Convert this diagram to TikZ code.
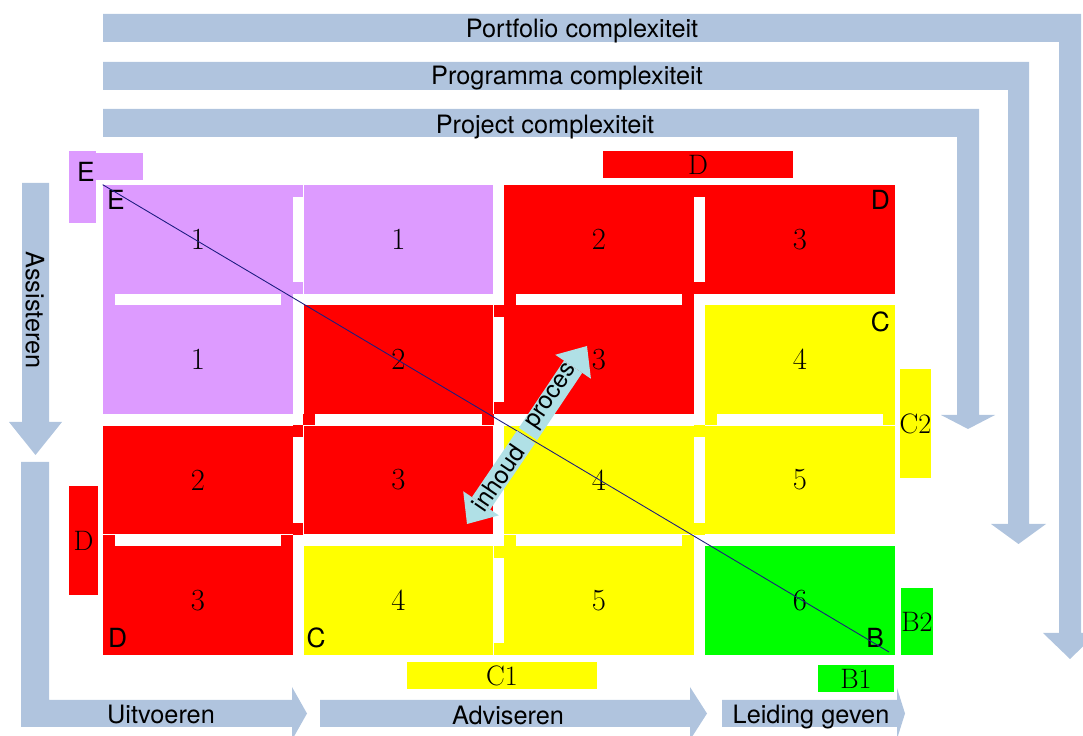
\documentclass[tikz,border=0pt]{standalone}
\usepackage{fontspec}
\newfontfamily\helv{TeX Gyre Heros}
\usetikzlibrary{arrows.meta}

\definecolor{lila}{HTML}{DD9BFF}
\definecolor{rood}{HTML}{FF0000}
\definecolor{geel}{HTML}{FFFF00}
\definecolor{groen}{HTML}{00FF00}
\definecolor{bandblauw}{HTML}{B0C4DE}
\definecolor{pijlblauw}{HTML}{B0E0E6}
\definecolor{lijn}{HTML}{1C1C80}

% gap between two cells of the same colour: only the ends are filled
\newcommand\hjoin[3]{%
  \fill[#3] (#1.north east) rectangle ([yshift=-.24cm]#2.north west);
  \fill[#3] ([yshift=.24cm]#1.south east) rectangle (#2.south west);}
\newcommand\vjoin[3]{%
  \fill[#3] (#1.south west) rectangle ([xshift=.24cm]#2.north west);
  \fill[#3] ([xshift=-.24cm]#1.south east) rectangle (#2.north east);}

\begin{document}
\begin{tikzpicture}[
    x=0.02cm, y=-0.02cm,
    cell/.style = {minimum width=3.8cm, minimum height=2.18cm, inner sep=0pt,
                   font=\fontsize{17.5}{20}\selectfont},
    corner/.style = {inner sep=0pt, font=\helv\fontsize{15}{17}\selectfont},
    tag/.style = {inner sep=0pt, font=\fontsize{16}{18}\selectfont},
    band/.style = {fill=bandblauw},
    bandlabel/.style = {inner sep=0pt, font=\helv\fontsize{14.4}{16}\selectfont},
    duo/.style = {draw=pijlblauw, line width=0.44cm,
                  -{Triangle[width=0.86cm,length=0.5cm,line width=0pt]}},
    duolabel/.style = {sloped, inner sep=0pt, font=\helv\fontsize{14}{16}\selectfont},
    diag/.style = {draw=lijn, line width=0.5pt}
    ]
    \useasboundingbox (0,0) rectangle (1083,736);
    \clip (0,0) rectangle (1083,736);

    % complexity bands
    \fill[band] (103,14) -- (1081,14) -- (1081,633) -- (1097,633) -- (1070,659)
      -- (1043,633) -- (1059,633) -- (1059,42) -- (103,42) -- cycle;
    \node[bandlabel] (portfolio) at (582,31) {Portfolio complexiteit};
    \fill[band] (103,62) -- (1029,62) -- (1029,524) -- (1046,524) -- (1018.5,544)
      -- (991,524) -- (1008,524) -- (1008,90) -- (103,90) -- cycle;
    \node[bandlabel] (programma) at (567,78) {Programma complexiteit};
    \fill[band] (103,109) -- (979,109) -- (979,415) -- (995,415) -- (968,429)
      -- (941,415) -- (957,415) -- (957,137) -- (103,137) -- cycle;
    \node[bandlabel] (project) at (545,127) {Project complexiteit};

    % roles
    \fill[band] (22,183) -- (49,183) -- (49,422) -- (62,422) -- (35.5,455)
      -- (9,422) -- (22,422) -- cycle;
    \node[bandlabel, rotate=-90] (assist) at (35,310) {Assisteren};
    \fill[band] (21,462) -- (49,462) -- (49,700) -- (292,700) -- (292,687)
      -- (307,713.5) -- (292,740) -- (292,727) -- (21,727) -- cycle;
    \node[bandlabel] (uitvoer) at (161,715) {Uitvoeren};
    \fill[band] (320,700) -- (690,700) -- (690,687) -- (707,713.5) -- (690,740)
      -- (690,727) -- (320,727) -- cycle;
    \node[bandlabel] (advies) at (508,715) {Adviseren};
    \fill[band] (722,700) -- (897,700) -- (897,688) -- (905,713.5) -- (897,739)
      -- (897,727) -- (722,727) -- cycle;
    \node[bandlabel] (leiding) at (811,717) {Leiding geven};

    % matrix
    \node[cell, fill=lila]  (c11) at (198,239.5) {1};
    \node[cell, fill=lila]  (c12) at (398.5,239.5) {1};
    \node[cell, fill=rood]  (c13) at (599,239.5) {2};
    \node[cell, fill=rood]  (c14) at (800,239.5) {3};
    \node[cell, fill=lila]  (c21) at (198,359.5) {1};
    \node[cell, fill=rood]  (c22) at (398.5,359.5) {2};
    \node[cell, fill=rood]  (c23) at (599,359.5) {3};
    \node[cell, fill=geel]  (c24) at (800,359.5) {4};
    \node[cell, fill=rood]  (c31) at (198,480) {2};
    \node[cell, fill=rood]  (c32) at (398.5,480) {3};
    \node[cell, fill=geel]  (c33) at (599,480) {4};
    \node[cell, fill=geel]  (c34) at (800,480) {5};
    \node[cell, fill=rood]  (c41) at (198,600.5) {3};
    \node[cell, fill=geel]  (c42) at (398.5,600.5) {4};
    \node[cell, fill=geel]  (c43) at (599,600.5) {5};
    \node[cell, fill=groen] (c44) at (800,600.5) {6};

    \hjoin{c11}{c12}{lila}
    \hjoin{c13}{c14}{rood}
    \hjoin{c22}{c23}{rood}
    \hjoin{c31}{c32}{rood}
    \hjoin{c33}{c34}{geel}
    \hjoin{c42}{c43}{geel}
    \vjoin{c11}{c21}{lila}
    \vjoin{c31}{c41}{rood}
    \vjoin{c22}{c32}{rood}
    \vjoin{c13}{c23}{rood}
    \vjoin{c33}{c43}{geel}
    \vjoin{c24}{c34}{geel}

    % corner letters
    \node[corner, anchor=north west] (kE) at ([xshift=.08cm, yshift=-.1cm]c11.north west) {E};
    \node[corner, anchor=north east] (kD) at ([xshift=-.1cm, yshift=-.1cm]c14.north east) {D};
    \node[corner, anchor=north east] (kC) at ([xshift=-.1cm, yshift=-.14cm]c24.north east) {C};
    \node[corner, anchor=south west] (kD2) at ([xshift=.1cm, yshift=.14cm]c41.south west) {D};
    \node[corner, anchor=south west] (kC2) at ([xshift=.06cm, yshift=.14cm]c42.south west) {C};
    \node[corner, anchor=south east] (kB) at ([xshift=-.22cm, yshift=.14cm]c44.south east) {B};

    % tags around the matrix
    \node[tag, fill=lila, minimum width=.54cm, minimum height=1.44cm] (tEv) at (82.5,187) {};
    \node[tag, fill=lila, minimum width=.94cm, minimum height=.54cm] (tEh) at (119.5,166.5) {};
    \node[corner] (tE) at (86,172) {E};
    \node[tag, fill=rood, minimum width=3.8cm, minimum height=.54cm] (tDtop) at (698,164.5) {D};
    \node[tag, fill=rood, minimum width=.58cm, minimum height=2.18cm] (tDleft) at (83.5,540.5) {D};
    \node[tag, fill=geel, minimum width=.58cm, minimum height=2.18cm] (tC2) at (915.5,423.5) {C2};
    \node[tag, fill=groen, minimum width=.6cm, minimum height=1.34cm] (tB2) at (917,621.5) {B2};
    \node[tag, fill=geel, minimum width=3.8cm, minimum height=.54cm] (tC1) at (502,675.5) {C1};
    \node[tag, fill=groen, minimum width=1.52cm, minimum height=.54cm] (tB1) at (856,678.5) {B1};

    % diagonal
    \coordinate (diagend) at (889,652);
    \draw[diag] (c11.north west) -- (diagend);

    % content / process arrow
    \coordinate (pmid) at (528,434);
    \coordinate (ptip) at (587,346);
    \coordinate (imid) at (526,437);
    \coordinate (itip) at (467,524);
    \draw[duo] (pmid) -- (ptip) node[duolabel, pos=.42] (proces) {proces};
    \draw[duo] (imid) -- (itip) node[duolabel, pos=.47] (inhoud) {inhoud};
  \end{tikzpicture}
\end{document}
